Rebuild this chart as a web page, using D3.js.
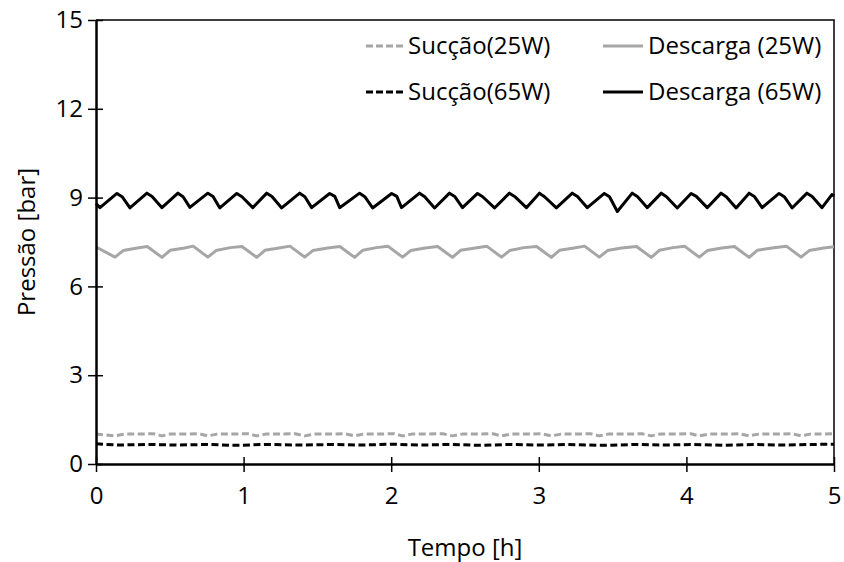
<!DOCTYPE html>
<html>
<head>
<meta charset="utf-8">
<script src="https://cdn.jsdelivr.net/npm/d3@7"></script>
<style>
  body { margin: 0; background: #fff; }
  text { font-family: "Open Sans", sans-serif; fill: #000; }
</style>
</head>
<body>
<svg id="chart" width="844" height="562"></svg>
<script>
// x ticks / y ticks
const xTicks = [0, 1, 2, 3, 4, 5]
const yTicks = [0, 3, 6, 9, 12, 15]

// Descarga (65W) - black solid
const desc65T = [0, 0.027, 0.142, 0.177, 0.230, 0.345, 0.380, 0.447, 0.555, 0.590, 0.636, 0.758, 0.793, 0.839, 0.954, 0.989, 1.062, 1.157, 1.192, 1.258, 1.380, 1.415, 1.461, 1.583, 1.618, 1.651, 1.786, 1.821, 1.874, 2.003, 2.038, 2.070, 2.192, 2.227, 2.294, 2.395, 2.430, 2.483, 2.585, 2.620, 2.700, 2.801, 2.836, 2.916, 3.004, 3.039, 3.119, 3.227, 3.262, 3.329, 3.444, 3.479, 3.532, 3.633, 3.668, 3.735, 3.830, 3.865, 3.938, 4.032, 4.067, 4.141, 4.235, 4.270, 4.337, 4.425, 4.460, 4.513, 4.628, 4.663, 4.716, 4.817, 4.852, 4.919, 4.986, 5.0]
const desc65V = [8.80, 8.66, 9.14, 9.03, 8.65, 9.15, 9.04, 8.66, 9.15, 9.03, 8.67, 9.15, 9.04, 8.65, 9.14, 9.03, 8.66, 9.15, 9.04, 8.65, 9.15, 9.03, 8.66, 9.14, 9.04, 8.66, 9.15, 9.03, 8.65, 9.14, 9.04, 8.66, 9.15, 9.03, 8.65, 9.15, 9.04, 8.66, 9.14, 9.03, 8.65, 9.15, 9.04, 8.66, 9.15, 9.03, 8.65, 9.15, 9.04, 8.66, 9.14, 9.03, 8.53, 9.15, 9.04, 8.66, 9.15, 9.03, 8.65, 9.14, 9.04, 8.66, 9.15, 9.03, 8.65, 9.15, 9.04, 8.66, 9.14, 9.03, 8.65, 9.15, 9.04, 8.66, 9.10, 9.06]

// Descarga (25W) - gray solid
const desc25T = [0, 0.129, 0.184, 0.28, 0.347, 0.447, 0.502, 0.60, 0.658, 0.758, 0.813, 0.91, 0.989, 1.089, 1.144, 1.24, 1.314, 1.414, 1.469, 1.57, 1.652, 1.752, 1.807, 1.90, 1.977, 2.077, 2.132, 2.23, 2.315, 2.415, 2.470, 2.57, 2.647, 2.747, 2.802, 2.90, 2.985, 3.085, 3.140, 3.24, 3.310, 3.410, 3.465, 3.56, 3.662, 3.762, 3.817, 3.91, 3.987, 4.087, 4.142, 4.24, 4.325, 4.425, 4.480, 4.58, 4.677, 4.777, 4.832, 4.93, 5.0]
const desc25V = [7.33, 6.99, 7.21, 7.30, 7.35, 6.98, 7.22, 7.30, 7.36, 6.99, 7.21, 7.31, 7.35, 6.98, 7.22, 7.30, 7.36, 6.99, 7.21, 7.30, 7.35, 6.98, 7.22, 7.31, 7.36, 6.99, 7.21, 7.30, 7.35, 6.98, 7.22, 7.30, 7.36, 6.99, 7.21, 7.31, 7.35, 6.98, 7.22, 7.30, 7.36, 6.99, 7.21, 7.30, 7.35, 6.98, 7.22, 7.31, 7.36, 6.99, 7.21, 7.30, 7.35, 6.98, 7.22, 7.30, 7.36, 6.99, 7.21, 7.30, 7.34]

// Sucção (25W) - gray dashed
const suc25T = [0, 0.07, 0.129, 0.19, 0.39, 0.447, 0.50, 0.70, 0.758, 0.82, 1.03, 1.089, 1.15, 1.35, 1.414, 1.48, 1.69, 1.752, 1.81, 2.02, 2.077, 2.14, 2.35, 2.415, 2.48, 2.69, 2.747, 2.81, 3.02, 3.085, 3.15, 3.35, 3.410, 3.47, 3.70, 3.762, 3.82, 4.03, 4.087, 4.15, 4.36, 4.425, 4.49, 4.72, 4.777, 4.84, 5.0]
const suc25V = [1.01, 0.98, 0.95, 1.01, 1.02, 0.95, 1.01, 1.02, 0.95, 1.01, 1.02, 0.95, 1.01, 1.02, 0.95, 1.01, 1.02, 0.95, 1.01, 1.02, 0.95, 1.01, 1.02, 0.95, 1.01, 1.02, 0.95, 1.01, 1.02, 0.95, 1.01, 1.02, 0.95, 1.01, 1.02, 0.95, 1.01, 1.02, 0.95, 1.01, 1.02, 0.95, 1.01, 1.02, 0.95, 1.01, 1.02]

// Sucção (65W) - black dashed
const suc65T = [0, 0.15, 0.35, 0.55, 0.75, 0.95, 1.15, 1.40, 1.60, 1.80, 2.00, 2.20, 2.40, 2.60, 2.80, 3.00, 3.20, 3.45, 3.65, 3.85, 4.05, 4.25, 4.45, 4.65, 4.85, 5.0]
const suc65V = [0.68, 0.64, 0.66, 0.64, 0.66, 0.63, 0.66, 0.64, 0.66, 0.64, 0.67, 0.64, 0.66, 0.63, 0.66, 0.64, 0.66, 0.63, 0.66, 0.64, 0.66, 0.63, 0.66, 0.64, 0.66, 0.67]

const gray = '#a6a6a6'

const series = [
  { name: 'Sucção(25W)', t: suc25T, v: suc25V, color: gray, dash: '7,3.5', width: 3 },
  { name: 'Sucção(65W)', t: suc65T, v: suc65V, color: '#000', dash: '7,3.5', width: 3 },
  { name: 'Descarga (25W)', t: desc25T, v: desc25V, color: gray, dash: null, width: 3 },
  { name: 'Descarga (65W)', t: desc65T, v: desc65V, color: '#000', dash: null, width: 3 }
]

const svg = d3.select('#chart')
const mLeft = 96, mRight = 834, mTop = 20, mBottom = 464
const fontSize = '24px'

const x = d3.scaleLinear().domain([0, 5]).range([mLeft, mRight])
const y = d3.scaleLinear().domain([0, 15]).range([mBottom, mTop])

// frame (top / right thin)
svg.append('path')
  .attr('d', `M${mLeft},${mTop}H${mRight}V${mBottom}`)
  .attr('fill', 'none').attr('stroke', '#000').attr('stroke-width', 1.5)

// data lines (under the axes)
const line = d3.line().x(d => x(d[0])).y(d => y(d[1]))
series.forEach(s => {
  const pts = s.t.map((t, i) => [t, s.v[i]])
  svg.append('path')
    .datum(pts)
    .attr('d', line)
    .attr('fill', 'none')
    .attr('stroke', s.color)
    .attr('stroke-width', s.width)
    .attr('stroke-linejoin', 'round')
    .attr('stroke-dasharray', s.dash)
})

// axes - ticks cross the axis line
const xAxis = d3.axisBottom(x).tickValues(xTicks).tickFormat(d3.format('d'))
  .tickSize(0).tickSizeOuter(0).tickPadding(23)
const gx = svg.append('g').attr('transform', `translate(0,${mBottom})`).call(xAxis)
gx.select('.domain').attr('stroke', '#000').attr('stroke-width', 2.5)
gx.selectAll('.tick line').attr('y1', -7).attr('y2', 8).attr('stroke', '#000').attr('stroke-width', 1.5)
gx.selectAll('text').style('font-size', fontSize).style('font-family', '"Open Sans", sans-serif')

const yAxis = d3.axisLeft(y).tickValues(yTicks).tickFormat(d3.format('d'))
  .tickSize(0).tickSizeOuter(0).tickPadding(13)
const gy = svg.append('g').attr('transform', `translate(${mLeft},0)`).call(yAxis)
gy.select('.domain').attr('stroke', '#000').attr('stroke-width', 2.5)
gy.selectAll('.tick line').attr('x1', -8).attr('x2', 7).attr('stroke', '#000').attr('stroke-width', 1.5)
gy.selectAll('text').style('font-size', fontSize).style('font-family', '"Open Sans", sans-serif')

// axis titles
svg.append('text')
  .attr('x', 465).attr('y', 556)
  .attr('text-anchor', 'middle')
  .style('font-size', fontSize)
  .text('Tempo [h]')

svg.append('text')
  .attr('transform', 'translate(35,242) rotate(-90)')
  .attr('text-anchor', 'middle')
  .style('font-size', fontSize)
  .text('Pressão [bar]')

// legend, two columns
const legendPos = [[366, 46], [366, 92], [603, 46], [603, 92]]
series.forEach((s, i) => {
  const [lx, ly] = legendPos[i]
  const g = svg.append('g').attr('transform', `translate(${lx},${ly})`)
  g.append('line')
    .attr('x1', 0).attr('x2', 40).attr('y1', 0).attr('y2', 0)
    .attr('stroke', s.color).attr('stroke-width', s.width)
    .attr('stroke-dasharray', s.dash ? '7,3' : null)
  g.append('text')
    .attr('x', s.dash ? 42 : 45).attr('y', 0).attr('dy', '0.35em')
    .style('font-size', fontSize)
    .text(s.name)
})
</script>
</body>
</html>
